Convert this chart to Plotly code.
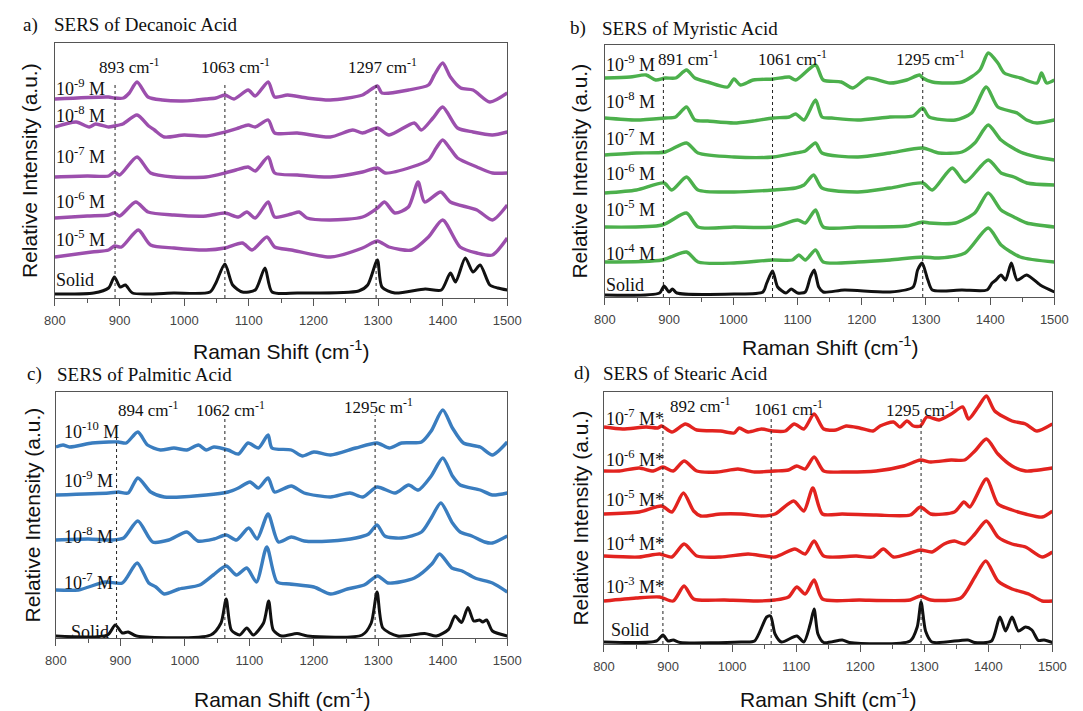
import plotly.graph_objects as go

W, H = 1083, 711

# x-axis ticks (Raman shift, cm-1)
shift_ticks = [800, 900, 1000, 1100, 1200, 1300, 1400, 1500]

# ---------------- a) Decanoic acid: stacked SERS spectra (a.u.) ----------------
dec_9_x = [800, 883, 892, 906, 915, 927, 944, 966, 997, 1019, 1034, 1049, 1063, 1077, 1099, 1110, 1130, 1140, 1160, 1190, 1226, 1276, 1299, 1306, 1347, 1378, 1387, 1400, 1412, 1428, 1447, 1473, 1500]
dec_9_y = [199, 201, 200, 200, 205, 216, 201, 198, 197, 198, 199, 200, 203, 199, 208, 202, 216, 201, 203, 200, 198, 203, 212, 205, 208, 213, 223, 235, 221, 210, 208, 196, 205]
dec_8_x = [800, 833, 853, 863, 883, 892, 905, 927, 945, 954, 969, 1000, 1034, 1063, 1084, 1099, 1110, 1130, 1140, 1175, 1226, 1261, 1276, 1299, 1317, 1356, 1367, 1385, 1400, 1423, 1447, 1477, 1500]
dec_8_y = [171, 176, 171, 174, 171, 172, 174, 183, 172, 168, 161, 163, 162, 166, 170, 173, 171, 178, 165, 165, 161, 168, 165, 170, 163, 175, 168, 180, 191, 170, 166, 163, 166]
dec_7_x = [800, 850, 883, 892, 900, 927, 948, 984, 1034, 1063, 1080, 1099, 1110, 1130, 1140, 1175, 1226, 1276, 1299, 1311, 1352, 1378, 1390, 1400, 1412, 1423, 1453, 1477, 1500]
dec_7_y = [121, 122, 122, 126, 123, 141, 125, 121, 121, 125, 128, 131, 127, 141, 125, 123, 121, 126, 130, 125, 131, 138, 150, 158, 149, 140, 131, 125, 125]
dec_6_x = [800, 850, 883, 892, 900, 925, 944, 984, 1034, 1063, 1084, 1097, 1110, 1130, 1140, 1166, 1178, 1190, 1226, 1276, 1299, 1310, 1326, 1347, 1362, 1372, 1397, 1412, 1453, 1477, 1500]
dec_6_y = [80, 82, 83, 85, 82, 96, 86, 83, 82, 85, 81, 86, 80, 96, 81, 84, 86, 80, 78, 81, 90, 96, 85, 91, 116, 96, 106, 96, 88, 78, 93]
dec_5_x = [800, 857, 883, 892, 903, 929, 948, 984, 1034, 1063, 1090, 1105, 1128, 1140, 1166, 1226, 1276, 1299, 1317, 1352, 1378, 1400, 1427, 1453, 1477, 1500]
dec_5_y = [41, 46, 48, 52, 51, 68, 53, 50, 48, 50, 55, 48, 61, 51, 48, 41, 50, 57, 51, 48, 61, 78, 51, 45, 43, 60]
dec_s_x = [800, 860, 883, 892, 901, 909, 920, 984, 1040, 1049, 1063, 1075, 1090, 1110, 1125, 1136, 1175, 1270, 1284, 1299, 1306, 1326, 1373, 1398, 1412, 1420, 1435, 1447, 1458, 1473, 1485, 1500]
dec_s_y = [4, 5, 10, 21, 11, 13, 5, 5, 6, 15, 34, 13, 6, 8, 30, 6, 5, 7, 13, 38, 11, 5, 9, 8, 25, 16, 40, 26, 33, 13, 10, 8]
dec_labels = ["10<sup>-9</sup> M", "10<sup>-8</sup> M", "10<sup>-7</sup> M", "10<sup>-6</sup> M", "10<sup>-5</sup> M", "Solid"]
dec_peaks = [893, 1063, 1297]

# ---------------- b) Myristic acid ----------------
myr_9_x = [800, 839, 864, 879, 894, 910, 927, 940, 960, 991, 1001, 1011, 1031, 1062, 1087, 1097, 1128, 1140, 1168, 1186, 1209, 1244, 1270, 1290, 1295, 1310, 1356, 1384, 1397, 1412, 1422, 1447, 1473, 1480, 1488, 1500]
myr_9_y = [219, 220, 222, 217, 219, 219, 227, 219, 215, 210, 218, 212, 217, 218, 220, 217, 232, 217, 215, 209, 219, 214, 217, 222, 219, 215, 215, 227, 244, 234, 224, 219, 214, 224, 214, 217]
myr_8_x = [800, 849, 894, 910, 927, 940, 960, 1001, 1031, 1062, 1087, 1097, 1110, 1128, 1138, 1153, 1194, 1244, 1280, 1295, 1305, 1346, 1371, 1394, 1412, 1442, 1457, 1473, 1500]
myr_8_y = [179, 177, 179, 180, 190, 177, 176, 174, 176, 179, 180, 183, 177, 197, 180, 179, 177, 180, 181, 189, 180, 177, 184, 210, 190, 184, 177, 174, 177]
myr_7_x = [800, 849, 894, 927, 945, 1001, 1062, 1097, 1112, 1128, 1138, 1194, 1244, 1295, 1320, 1356, 1376, 1397, 1417, 1447, 1473, 1500]
myr_7_y = [142, 144, 145, 154, 144, 140, 140, 144, 146, 154, 144, 140, 144, 149, 144, 145, 154, 172, 157, 145, 140, 137]
myr_6_x = [800, 849, 892, 904, 927, 945, 1001, 1062, 1097, 1110, 1125, 1138, 1194, 1244, 1295, 1310, 1341, 1361, 1397, 1417, 1437, 1457, 1500]
myr_6_y = [104, 107, 114, 107, 120, 107, 105, 107, 109, 112, 122, 109, 105, 109, 114, 107, 129, 115, 137, 124, 120, 114, 112]
myr_5_x = [800, 889, 927, 945, 1001, 1062, 1100, 1112, 1128, 1140, 1194, 1270, 1295, 1305, 1346, 1376, 1397, 1417, 1437, 1457, 1500]
myr_5_y = [70, 72, 84, 70, 70, 70, 77, 74, 87, 70, 70, 71, 75, 74, 74, 84, 104, 87, 80, 74, 70]
myr_4_x = [800, 889, 927, 945, 1001, 1062, 1092, 1102, 1112, 1128, 1140, 1194, 1244, 1295, 1320, 1361, 1397, 1417, 1447, 1500]
myr_4_y = [35, 37, 45, 35, 34, 37, 37, 42, 37, 47, 35, 35, 37, 40, 39, 44, 69, 52, 40, 35]
myr_s_x = [800, 885, 892, 900, 905, 912, 1001, 1046, 1052, 1061, 1069, 1082, 1090, 1100, 1112, 1120, 1126, 1133, 1140, 1173, 1244, 1280, 1287, 1294, 1303, 1310, 1356, 1395, 1403, 1409, 1417, 1424, 1433, 1442, 1457, 1478, 1500]
myr_s_y = [2, 4, 11, 5, 8, 4, 3, 5, 14, 26, 10, 4, 8, 4, 5, 20, 27, 10, 5, 7, 5, 10, 27, 34, 17, 7, 7, 7, 14, 17, 22, 17, 34, 17, 22, 12, 5]
myr_labels = ["10<sup>-9</sup> M", "10<sup>-8</sup> M", "10<sup>-7</sup> M", "10<sup>-6</sup> M", "10<sup>-5</sup> M", "10<sup>-4</sup> M", "Solid"]
myr_peaks = [891, 1061, 1295]

# ---------------- c) Palmitic acid ----------------
pal_10_x = [800, 811, 821, 856, 882, 897, 909, 927, 942, 962, 983, 1003, 1021, 1033, 1045, 1067, 1083, 1098, 1114, 1129, 1135, 1165, 1182, 1200, 1226, 1265, 1298, 1317, 1336, 1367, 1382, 1400, 1415, 1432, 1458, 1477, 1500]
pal_10_y = [191, 193, 191, 195, 196, 196, 195, 206, 193, 188, 190, 188, 193, 188, 191, 188, 184, 195, 190, 203, 190, 188, 182, 186, 183, 190, 195, 190, 195, 196, 207, 228, 210, 195, 191, 183, 196]
pal_9_x = [800, 882, 897, 912, 927, 947, 968, 1033, 1067, 1083, 1101, 1114, 1129, 1139, 1165, 1185, 1226, 1256, 1276, 1298, 1326, 1347, 1362, 1382, 1400, 1415, 1427, 1458, 1477, 1500]
pal_9_y = [143, 145, 146, 145, 160, 146, 141, 143, 146, 150, 156, 150, 160, 146, 152, 145, 141, 145, 141, 151, 145, 153, 148, 162, 180, 162, 153, 148, 143, 145]
pal_8_x = [800, 850, 887, 905, 927, 950, 975, 1003, 1020, 1045, 1064, 1080, 1099, 1112, 1129, 1145, 1165, 1185, 1226, 1265, 1285, 1298, 1310, 1336, 1367, 1382, 1397, 1415, 1427, 1445, 1465, 1477, 1500]
pal_8_y = [98, 99, 98, 100, 117, 96, 98, 106, 97, 99, 103, 98, 110, 99, 124, 96, 101, 97, 97, 100, 104, 113, 102, 100, 106, 120, 135, 115, 106, 102, 96, 95, 102]
pal_7_x = [800, 835, 876, 903, 926, 944, 955, 968, 991, 1023, 1044, 1064, 1080, 1096, 1111, 1127, 1143, 1163, 1200, 1226, 1252, 1278, 1299, 1315, 1356, 1383, 1395, 1414, 1430, 1450, 1477, 1500]
pal_7_y = [48, 48, 56, 55, 75, 55, 51, 44, 49, 53, 63, 72, 63, 70, 56, 91, 56, 54, 51, 44, 49, 53, 62, 55, 60, 74, 84, 70, 67, 60, 55, 46]
pal_s_x = [800, 880, 892, 903, 912, 925, 1040, 1056, 1064, 1072, 1085, 1096, 1106, 1122, 1130, 1137, 1150, 1174, 1190, 1275, 1289, 1298, 1307, 1330, 1372, 1390, 1409, 1419, 1429, 1439, 1448, 1457, 1462, 1468, 1477, 1500]
pal_s_y = [2, 3, 13, 5, 6, 2, 3, 15, 39, 8, 3, 10, 3, 15, 37, 8, 2, 4.5, 2, 3, 15, 46, 10, 2, 4.5, 2, 8.6, 22, 15.5, 30.5, 17, 18, 16, 18, 7, 2]
pal_labels = ["10<sup>-10</sup> M", "10<sup>-9</sup> M", "10<sup>-8</sup> M", "10<sup>-7</sup> M", "Solid"]
pal_peaks = [894, 1062, 1295]

# ---------------- d) Stearic acid ----------------
ste_7_x = [800, 829, 866, 884, 890, 906, 927, 945, 982, 1003, 1011, 1025, 1046, 1063, 1083, 1097, 1112, 1128, 1143, 1162, 1178, 1199, 1220, 1231, 1252, 1262, 1273, 1283, 1294, 1304, 1323, 1342, 1360, 1369, 1384, 1397, 1410, 1437, 1458, 1476, 1500]
ste_7_y = [217, 215, 217, 216, 218, 212, 220, 214, 213, 211, 216, 212, 215, 213, 213, 220, 215, 230, 215, 214, 218, 216, 213, 218, 222, 217, 223, 218, 218, 227, 224, 230, 237, 225, 237, 248, 233, 223, 220, 213, 220]
ste_6_x = [800, 824, 855, 877, 892, 908, 925, 945, 977, 1009, 1035, 1067, 1088, 1101, 1114, 1128, 1143, 1172, 1225, 1268, 1294, 1310, 1342, 1363, 1379, 1397, 1415, 1437, 1458, 1479, 1500]
ste_6_y = [173, 173, 176, 173, 177, 173, 183, 173, 172, 175, 172, 173, 174, 178, 175, 187, 173, 172, 173, 178, 184, 182, 184, 184, 193, 205, 190, 178, 173, 174, 176]
ste_5_x = [800, 855, 890, 906, 924, 940, 951, 982, 1014, 1046, 1067, 1096, 1112, 1126, 1141, 1172, 1225, 1278, 1294, 1310, 1347, 1362, 1371, 1397, 1415, 1437, 1458, 1484, 1500]
ste_5_y = [130, 132, 138, 132, 151, 133, 128, 130, 130, 128, 130, 143, 133, 156, 130, 130, 129, 129, 137, 130, 132, 142, 137, 165, 140, 134, 130, 127, 133]
ste_4_x = [800, 855, 887, 906, 925, 945, 982, 1025, 1067, 1098, 1114, 1128, 1143, 1194, 1220, 1236, 1252, 1278, 1294, 1312, 1331, 1347, 1363, 1379, 1397, 1415, 1437, 1458, 1484, 1500]
ste_4_y = [88, 87, 90, 87, 100, 88, 87, 90, 87, 95, 90, 103, 88, 88, 87, 95, 87, 91, 94, 92, 100, 103, 100, 110, 123, 107, 100, 97, 87, 92]
ste_3_x = [800, 850, 887, 908, 925, 940, 988, 1040, 1067, 1088, 1101, 1114, 1128, 1141, 1199, 1278, 1294, 1310, 1357, 1379, 1396, 1415, 1437, 1463, 1484, 1500]
ste_3_y = [43, 46, 47, 43, 58, 45, 44, 43, 44, 47, 57, 50, 64, 45, 44, 44, 48, 44, 46, 67, 83, 63, 55, 50, 43, 43]
ste_s_x = [800, 882, 892, 900, 908, 919, 1014, 1035, 1054, 1060, 1067, 1077, 1101, 1112, 1122, 1128, 1134, 1143, 1172, 1183, 1278, 1289, 1295, 1302, 1312, 1368, 1379, 1405, 1418, 1427, 1437, 1447, 1458, 1468, 1478, 1487, 1500]
ste_s_y = [2, 3, 9, 3, 4, 1.5, 2, 3, 27, 28, 10, 2, 8, 2, 20, 35, 10, 1.5, 4, 1.5, 3, 17, 42, 13, 2, 4, 1.5, 3, 27, 13, 27, 13, 17, 14, 3.5, 4, 1.5]
ste_labels = ["10<sup>-7</sup> M*", "10<sup>-6</sup> M*", "10<sup>-5</sup> M*", "10<sup>-4</sup> M*", "10<sup>-3</sup> M*", "Solid"]
ste_peaks = [892, 1061, 1295]

PURPLE, GREEN, BLUE, RED, BLACK = "#9C4FAD", "#4CB04C", "#3A7DBF", "#E2231F", "#111111"
SERIF = "Liberation Serif, Times New Roman, serif"
SANS = "Liberation Sans, Arial, sans-serif"

panels = [
    dict(tag="a)", title="SERS of Decanoic Acid", box=(45, 508, 43, 298), color=PURPLE,
         series=[(dec_9_x, dec_9_y), (dec_8_x, dec_8_y), (dec_7_x, dec_7_y), (dec_6_x, dec_6_y), (dec_5_x, dec_5_y), (dec_s_x, dec_s_y)],
         labels=dec_labels, label_x=45, label_y=[87, 114, 155, 200, 238, 280], solid_x=45,
         peaks=dec_peaks, peak_text_x=[121, 230, 380], peak_text_y=[66, 66, 66], line_top=[83, 83, 83],
         tag_pos=(11, 25), title_pos=(43, 25), ytitle_x=19, xtitle_y=350, peak_fmt="{} cm<sup>-1</sup>"),
    dict(tag="b)", title="SERS of Myristic Acid", box=(608, 1068, 45, 297), color=GREEN,
         series=[(myr_9_x, myr_9_y), (myr_8_x, myr_8_y), (myr_7_x, myr_7_y), (myr_6_x, myr_6_y), (myr_5_x, myr_5_y), (myr_4_x, myr_4_y), (myr_s_x, myr_s_y)],
         labels=myr_labels, label_x=608, label_y=[64, 100, 138, 172, 208, 252, 285], solid_x=608,
         peaks=myr_peaks, peak_text_x=[693, 800, 941], peak_text_y=[58, 58, 58], line_top=[73, 73, 72],
         tag_pos=(571, 28), title_pos=(604, 28), ytitle_x=582, xtitle_y=346, peak_fmt="{} cm<sup>-1</sup>"),
    dict(tag="c)", title="SERS of Palmitic Acid", box=(46, 508, 392, 638), color=BLUE,
         series=[(pal_10_x, pal_10_y), (pal_9_x, pal_9_y), (pal_8_x, pal_8_y), (pal_7_x, pal_7_y), (pal_s_x, pal_s_y)],
         labels=pal_labels, label_x=53, label_y=[430, 479, 535, 581, 632], solid_x=60,
         peaks=pal_peaks, peak_text_x=[140, 225, 376], peak_text_y=[409, 409, 406], line_top=[428, 419, 415],
         tag_pos=(15, 374), title_pos=(46, 374), ytitle_x=21, xtitle_y=698,
         peak_fmt=["{} cm<sup>-1</sup>", "{} cm<sup>-1</sup>", "{}c m<sup>-1</sup>"]),
    dict(tag="d)", title="SERS of Stearic Acid", box=(607, 1066, 392, 644), color=RED,
         series=[(ste_7_x, ste_7_y), (ste_6_x, ste_6_y), (ste_5_x, ste_5_y), (ste_4_x, ste_4_y), (ste_3_x, ste_3_y), (ste_s_x, ste_s_y)],
         labels=ste_labels, label_x=608, label_y=[417, 458, 498, 542, 585, 630], solid_x=613,
         peaks=ste_peaks, peak_text_x=[705, 796, 931], peak_text_y=[405, 408, 409], line_top=[417, 418, 418],
         tag_pos=(575, 373), title_pos=(605, 373), ytitle_x=582, xtitle_y=698, peak_fmt="{} cm<sup>-1</sup>"),
]


def paper(x, y):
    return x / W, 1 - y / H


def text_at(x, y, text, family, size, anchor="left", angle=0):
    ax, ay = paper(x, y)
    return dict(x=ax, y=ay, xref="paper", yref="paper", text=text, showarrow=False,
                xanchor=anchor, yanchor="middle", align=anchor,
                textangle=angle, borderpad=0, font=dict(family=family, size=size, color="#111111"))


fig = go.Figure()
annotations, shapes = [], []
layout_axes = {}

for i, p in enumerate(panels):
    n = "" if i == 0 else str(i + 1)
    xa, ya = "x" + n, "y" + n
    left, right, top, bottom = p["box"]
    height = bottom - top

    for j, (sx, sy) in enumerate(p["series"]):
        solid = j == len(p["series"]) - 1
        fig.add_trace(go.Scatter(
            x=sx, y=sy, mode="lines", xaxis=xa, yaxis=ya, showlegend=False, hoverinfo="skip",
            line=dict(color=BLACK if solid else p["color"], width=3.0 if solid else 3.4,
                      shape="spline", smoothing=0.7)))

    axis_common = dict(showgrid=False, zeroline=False, showline=True, linecolor="#555555",
                       linewidth=1.4, mirror=True)
    layout_axes["xaxis" + n] = dict(
        axis_common, domain=[left / W, right / W], range=[800, 1500], anchor=ya,
        tickvals=shift_ticks, ticks="outside", ticklen=7, tickwidth=1.2, tickcolor="#555555",
        tickfont=dict(family=SANS, size=13, color="#444444"), ticklabelstandoff=3,
        minor=dict(ticks="outside", ticklen=4, tickwidth=1.2, tickcolor="#555555", dtick=50, tick0=800))
    layout_axes["yaxis" + n] = dict(
        axis_common, domain=[1 - bottom / H, 1 - top / H], range=[0, height], anchor=xa,
        showticklabels=False, ticks="")

    # dotted markers at the assigned bands
    for k, pk in enumerate(p["peaks"]):
        shapes.append(dict(type="line", xref=xa, yref=ya, x0=pk, x1=pk, y0=0, y1=bottom - p["line_top"][k],
                           line=dict(color="#222222", width=1, dash="dot"), layer="above"))
        fmt = p["peak_fmt"][k] if isinstance(p["peak_fmt"], list) else p["peak_fmt"]
        annotations.append(text_at(p["peak_text_x"][k], p["peak_text_y"][k], fmt.format(pk),
                                   SERIF, 17, anchor="center"))

    # concentration labels
    for k, lab in enumerate(p["labels"]):
        lx = p["solid_x"] if lab == "Solid" else p["label_x"]
        annotations.append(text_at(lx, p["label_y"][k], lab, SERIF, 18))

    # panel tag and title
    annotations.append(text_at(*p["tag_pos"], p["tag"], SERIF, 19))
    annotations.append(text_at(*p["title_pos"], p["title"], SERIF, 19))

    # axis titles
    annotations.append(text_at((left + right) / 2, p["xtitle_y"], "Raman Shift (cm<sup>-1</sup>)",
                               SANS, 21, anchor="center"))
    annotations.append(text_at(p["ytitle_x"], (top + bottom) / 2, "Relative Intensity (a.u.)",
                               SANS, 21, anchor="center", angle=-90))

fig.update_layout(
    width=W, height=H, margin=dict(l=0, r=0, t=0, b=0),
    paper_bgcolor="white", plot_bgcolor="white",
    annotations=annotations, shapes=shapes, **layout_axes)

fig.write_html("out.html")
